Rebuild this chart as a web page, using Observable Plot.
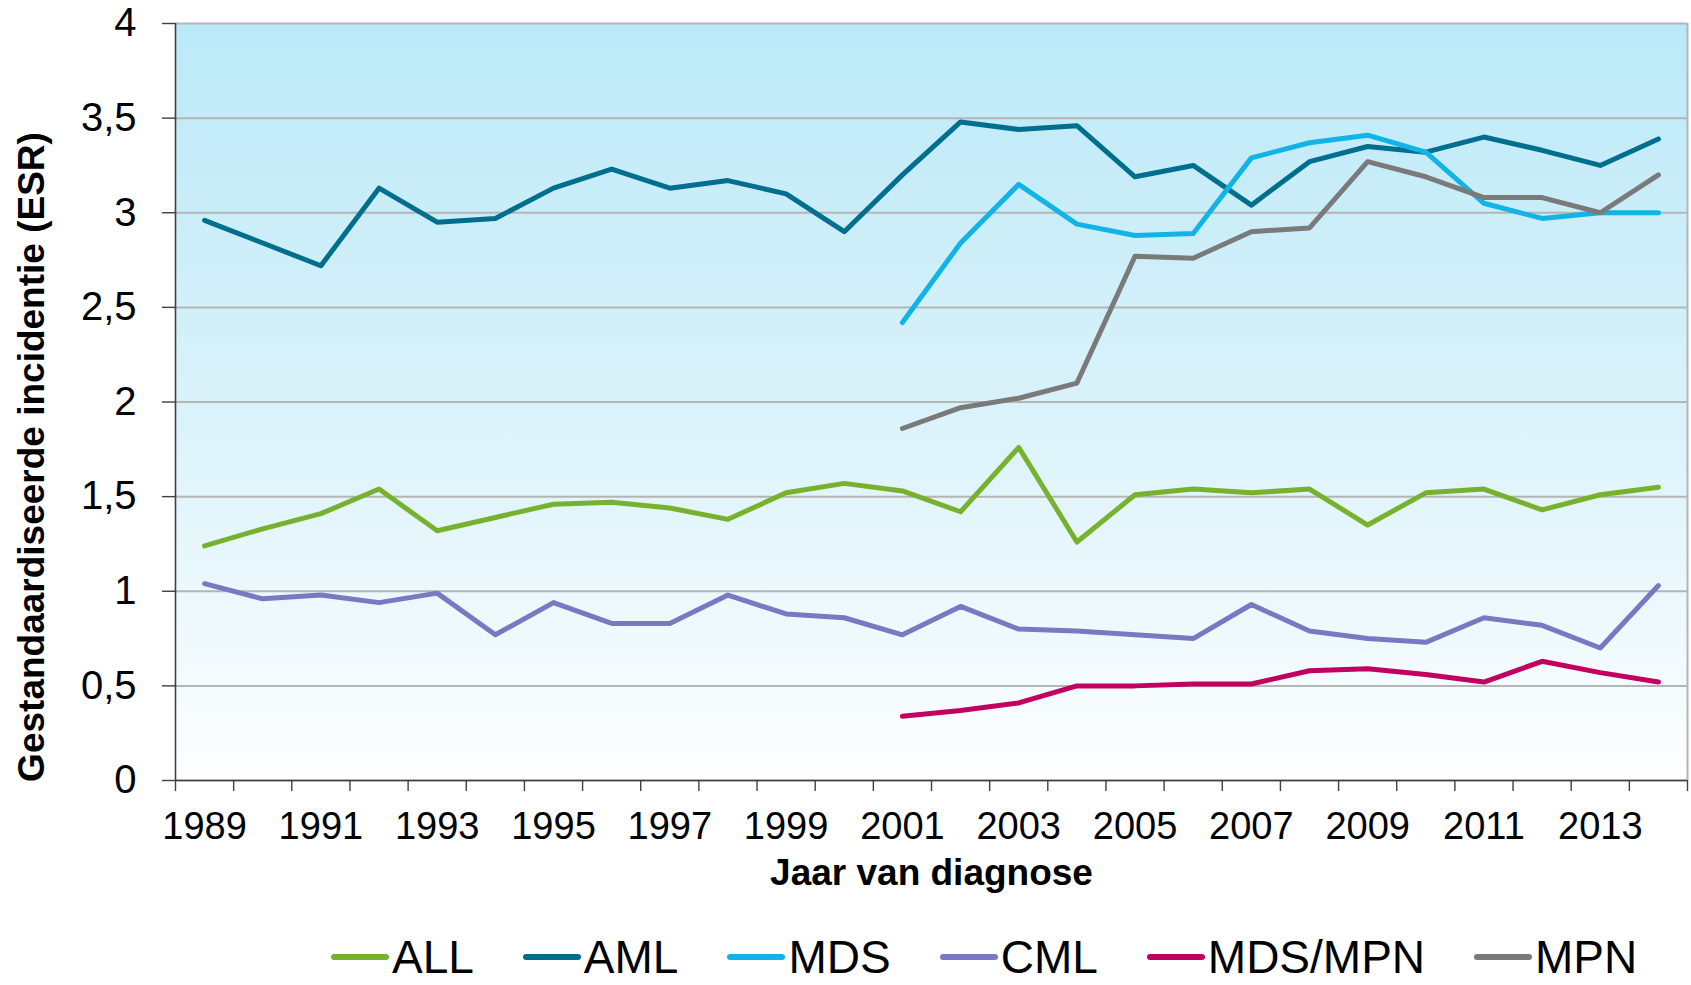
<!DOCTYPE html>
<html><head><meta charset="utf-8">
<script src="https://cdn.jsdelivr.net/npm/d3@7"></script>
<script src="https://cdn.jsdelivr.net/npm/@observablehq/plot@0.6"></script>
<style>
body{margin:0;background:#fff;font-family:Arial,"Liberation Sans",sans-serif;}
#wrap{position:relative;width:1691px;height:985px;overflow:hidden;background:#fff}
#legend{position:absolute;left:331px;top:934px;display:flex;align-items:center;height:46px;font-size:46px;line-height:46px;white-space:nowrap;color:#000}
.item{display:flex;align-items:center;margin-right:49px}
.sw{width:58px;height:6px;border-radius:3px;margin-right:3px}
</style></head><body><div id="wrap"></div>
<script>
const years = [1989,1990,1991,1992,1993,1994,1995,1996,1997,1998,1999,2000,2001,2002,2003,2004,2005,2006,2007,2008,2009,2010,2011,2012,2013,2014];
const ALL = [1.24,1.33,1.41,1.54,1.32,1.39,1.46,1.47,1.44,1.38,1.52,1.57,1.53,1.42,1.76,1.26,1.51,1.54,1.52,1.54,1.35,1.52,1.54,1.43,1.51,1.55];
const AML = [2.96,2.84,2.72,3.13,2.95,2.97,3.13,3.23,3.13,3.17,3.10,2.90,3.20,3.48,3.44,3.46,3.19,3.25,3.04,3.27,3.35,3.32,3.40,3.33,3.25,3.39];
const MDS = [null,null,null,null,null,null,null,null,null,null,null,null,2.42,2.84,3.15,2.94,2.88,2.89,3.29,3.37,3.41,3.32,3.05,2.97,3.00,3.00];
const CML = [1.04,0.96,0.98,0.94,0.99,0.77,0.94,0.83,0.83,0.98,0.88,0.86,0.77,0.92,0.80,0.79,0.77,0.75,0.93,0.79,0.75,0.73,0.86,0.82,0.70,1.03];
const MDS_MPN = [null,null,null,null,null,null,null,null,null,null,null,null,0.34,0.37,0.41,0.50,0.50,0.51,0.51,0.58,0.59,0.56,0.52,0.63,0.57,0.52];
const MPN = [null,null,null,null,null,null,null,null,null,null,null,null,1.86,1.97,2.02,2.10,2.77,2.76,2.90,2.92,3.27,3.19,3.08,3.08,3.00,3.20];
const seriesNames = ["ALL","AML","MDS","CML","MDS/MPN","MPN"];
const seriesValues = [ALL, AML, MDS, CML, MDS_MPN, MPN];
const seriesColors = ["#77B22E","#006E8E","#12B4E7","#7779C2","#C2005F","#7A7A7A"];
const yTicks = [0,0.5,1,1.5,2,2.5,3,3.5,4];
const xLabelYears = years.filter(y => y % 2 === 1);
const yTitle = "Gestandaardiseerde incidentie (ESR)";
const xTitle = "Jaar van diagnose";

const data = [];
seriesNames.forEach((s, i) => {
  seriesValues[i].forEach((v, j) => { if (v != null) data.push({series: s, year: years[j], value: v}); });
});
const boundaries = [...years.map(y => y - 0.5), years[years.length - 1] + 0.5];
const x0 = boundaries[0], x1 = boundaries[boundaries.length - 1];

const chart = Plot.plot({
  width: 1691,
  height: 900,
  marginLeft: 175,
  marginRight: 4,
  marginTop: 23,
  marginBottom: 120,
  style: {fontFamily: "Arial, 'Liberation Sans', sans-serif", background: "transparent", color: "#000", overflow: "visible"},
  x: {domain: [x0, x1], axis: null},
  y: {domain: [0, 4], axis: null},
  color: {domain: seriesNames, range: seriesColors},
  marks: [
    Plot.frame({fill: "url(#bgGrad)", stroke: null}),
    Plot.ruleY(yTicks, {stroke: "#b5b5b5", strokeWidth: 2}),
    Plot.ruleX([x1], {stroke: "#b5b5b5", strokeWidth: 2}),
    Plot.line(data, {x: "year", y: "value", z: "series", stroke: "series", strokeWidth: 5, strokeLinecap: "round", strokeLinejoin: "round"}),
    Plot.ruleX([x0], {stroke: "#404040", strokeWidth: 1.6}),
    Plot.ruleY([0], {stroke: "#404040", strokeWidth: 1.6}),
    Plot.axisY({ticks: yTicks, tickSize: 13, tickPadding: 26, tickFormat: d => String(d).replace(".", ","), fontSize: 40, label: null, stroke: "#404040", strokeWidth: 1.4}),
    Plot.axisX({ticks: boundaries, tickSize: 11, tickFormat: () => "", label: null, stroke: "#404040", strokeWidth: 1.4}),
    Plot.axisX({ticks: xLabelYears, tickSize: 0, tickPadding: 32, tickFormat: d => String(d), fontSize: 38, label: null}),
    Plot.text([yTitle], {text: d => d, frameAnchor: "left", rotate: -90, dx: -131.7, dy: 55, lineAnchor: "bottom", textAnchor: "middle", fontSize: 37, fontWeight: "bold", fill: "#000"}),
    Plot.text([xTitle], {text: d => d, frameAnchor: "bottom", dy: 104, lineAnchor: "bottom", textAnchor: "middle", fontSize: 37, fontWeight: "bold", fill: "#000"})
  ]
});

d3.select(chart).insert("defs", ":first-child").html(
  '<linearGradient id="bgGrad" x1="0" y1="0" x2="0" y2="1">' +
  '<stop offset="0" stop-color="#BBE9F8"/><stop offset="0.5" stop-color="#D9F2FA"/><stop offset="1" stop-color="#FDFEFF"/></linearGradient>');

const wrap = document.getElementById("wrap");
wrap.appendChild(chart);

const legend = document.createElement("div");
legend.id = "legend";
seriesNames.forEach((s, i) => {
  const item = document.createElement("div");
  item.className = "item";
  const sw = document.createElement("span");
  sw.className = "sw";
  sw.style.background = seriesColors[i];
  const t = document.createElement("span");
  t.textContent = s;
  item.appendChild(sw); item.appendChild(t);
  legend.appendChild(item);
});
wrap.appendChild(legend);
</script></body></html>
